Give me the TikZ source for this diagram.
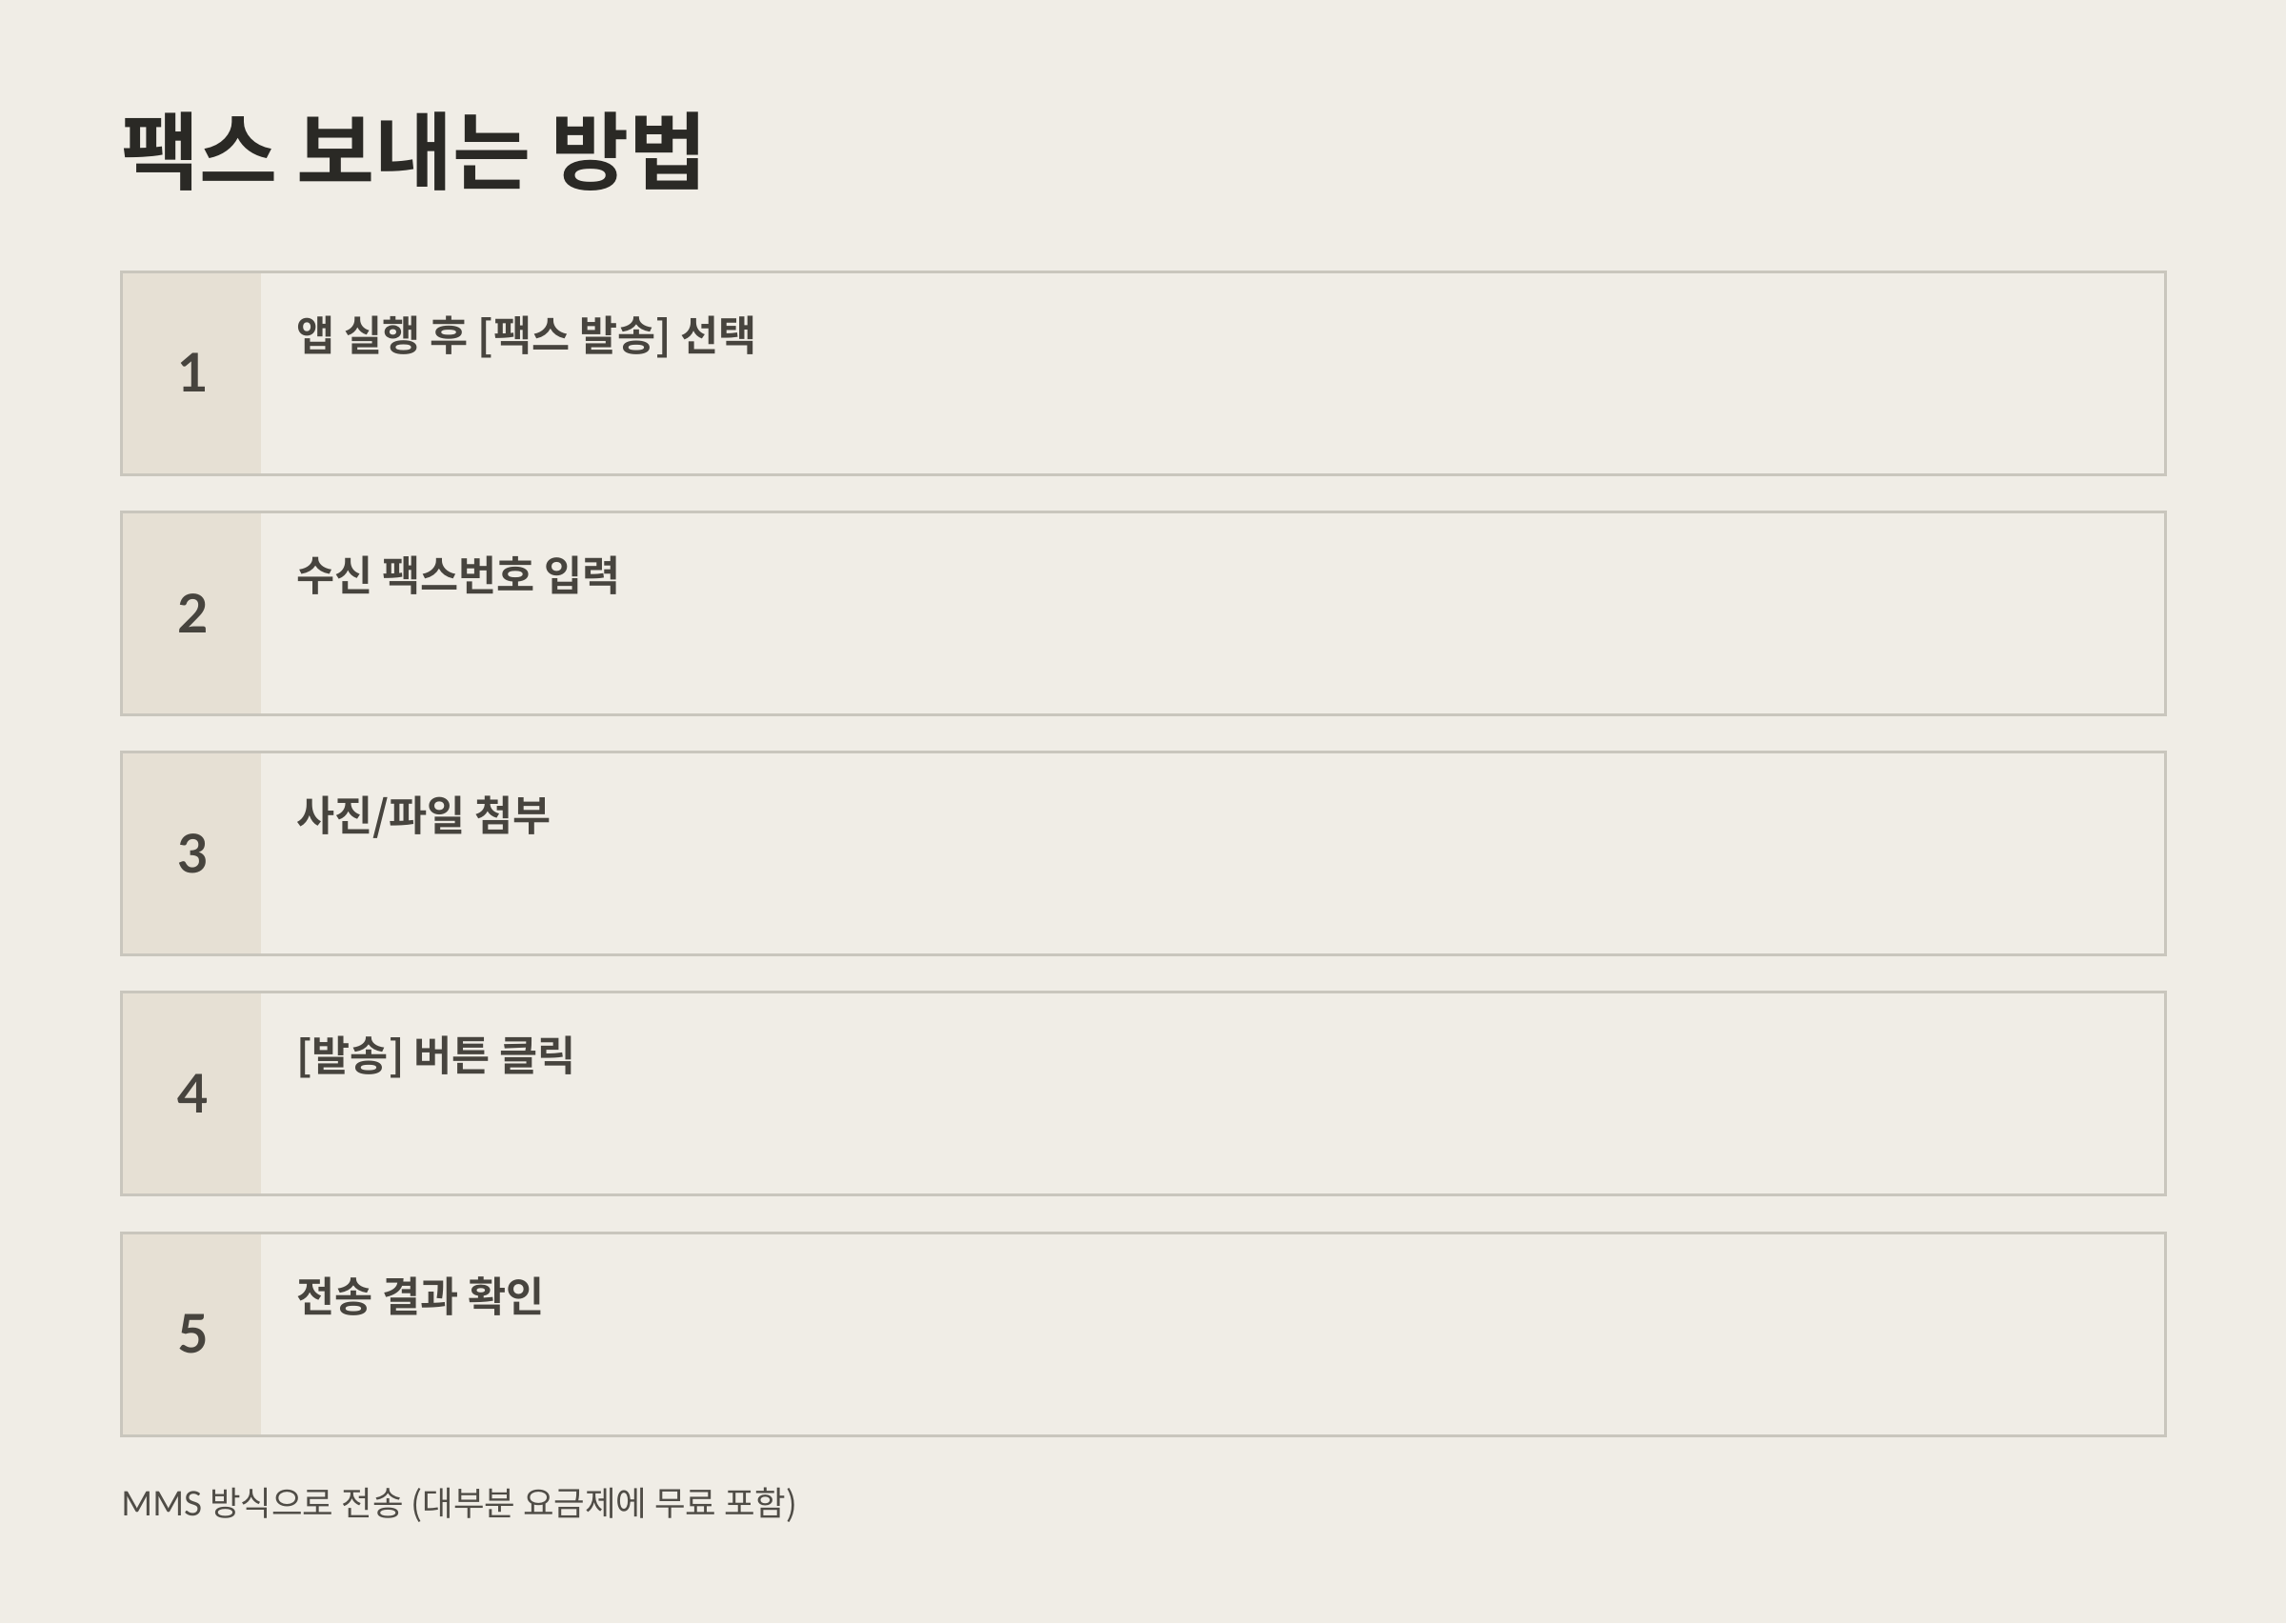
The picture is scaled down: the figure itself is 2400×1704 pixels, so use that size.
\documentclass[tikz,border=0pt]{standalone}
\usepackage{fontspec}
\setmainfont{Lato}
\newfontfamily\lato{Lato}
\newfontfamily\kr{Noto Sans CJK KR}
\newfontfamily\krb{Noto Sans CJK KR Bold}
\definecolor{bgc}{HTML}{F0EDE6}
\definecolor{boxc}{HTML}{F0EDE6}
\definecolor{accentc}{HTML}{E6E0D4}
\definecolor{borderc}{HTML}{C9C6BD}
\definecolor{titlec}{HTML}{2A2925}
\definecolor{stepc}{HTML}{47443E}
\definecolor{footc}{HTML}{4F4C46}
\tikzset{
  stepbox/.style={fill=boxc, minimum width=1073pt, minimum height=106.5pt, anchor=north west, inner sep=0pt, outer sep=0pt},
  accentbox/.style={fill=accentc, minimum width=73.5pt, minimum height=106.5pt, anchor=north west, inner sep=0pt, outer sep=0pt},
  stepframe/.style={draw=borderc, line width=1.5pt},
  numtext/.style={text=stepc, font=\lato\bfseries\fontsize{28}{30}\selectfont, inner sep=0pt},
  steptext/.style={text=stepc, font=\krb\fontsize{21.8}{26}\selectfont, inner sep=0pt, anchor=base west},
}
\begin{document}
\begin{tikzpicture}[x=0.5pt,y=-0.5pt]
\fill[bgc] (0,0) rectangle (2400,1704);
\useasboundingbox (0,0) rectangle (2400,1704);
\node[anchor=base west, inner sep=0pt, text=titlec, font=\krb\fontsize{44.6}{50}\selectfont] (title) at (127,192) {팩스 보내는 방법};
\foreach \i/\t in {1/{앱 실행 후 [팩스 발송] 선택},2/{수신 팩스번호 입력},3/{사진/파일 첨부},4/{[발송] 버튼 클릭},5/{전송 결과 확인}}{
  \pgfmathsetmacro{\top}{285+(\i-1)*252.25}
  \node[stepbox] (box\i) at (127,\top) {};
  \node[accentbox] (acc\i) at (127,\top) {};
  \draw[stepframe] (box\i.north west) rectangle (box\i.south east);
  \node[numtext] (n\i) at ([xshift=1.25pt]acc\i.center) {\i};
  \node[steptext] (t\i) at (311,\top+83) {\t};
}
\node[anchor=base west, inner sep=0pt, text=footc, font=\kr\fontsize{17.7}{20}\selectfont] (foot) at (127,1591) {{\lato MMS} 방식으로 전송 (대부분 요금제에 무료 포함)};
\end{tikzpicture}
\end{document}
